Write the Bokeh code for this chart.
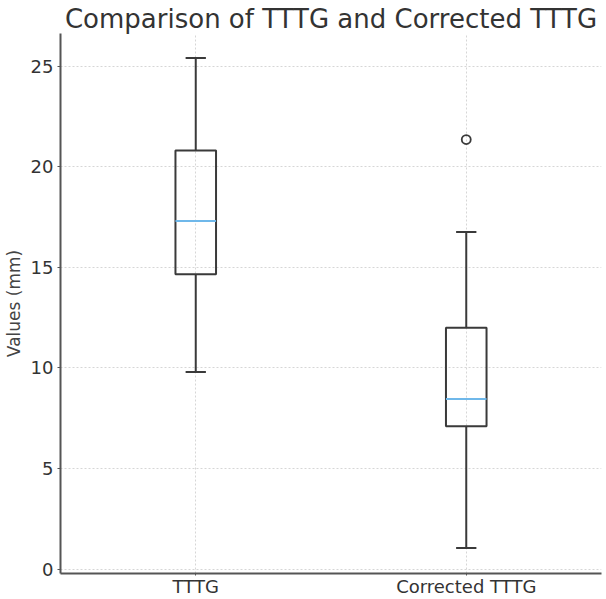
from bokeh.plotting import figure
from bokeh.models import Range1d, FixedTicker, Title
from bokeh.embed import file_html
from bokeh.resources import INLINE

categories = ["TTTG", "Corrected TTTG"]
positions = [1, 2]
whisker_low = [9.8, 1.05]
q1 = [14.65, 7.1]
median = [17.3, 8.45]
q3 = [20.8, 12.0]
whisker_high = [25.4, 16.75]
outlier_pos = [2]
outlier_val = [21.35]

box_w = 0.15
cap_w = 0.075

p = figure(width=606, height=599, output_backend="svg", toolbar_location=None,
           x_range=Range1d(0.5, 2.5), y_range=Range1d(-0.22, 26.62),
           min_border_left=59, min_border_right=5, min_border_top=33, min_border_bottom=26)
p.title = None
p.add_layout(Title(text="Comparison of TTTG and Corrected TTTG", align="center",
                   text_font="DejaVu Sans", text_font_size="26px", text_font_style="normal",
                   text_color="#333333", standoff=0, offset=0), "above")

p.outline_line_color = None
p.background_fill_color = "white"
p.border_fill_color = "white"

# whiskers
p.segment(x0=positions, y0=q3, x1=positions, y1=whisker_high, line_color="#3a3a3a", line_width=2)
p.segment(x0=positions, y0=whisker_low, x1=positions, y1=q1, line_color="#3a3a3a", line_width=2)
# caps
p.segment(x0=[x - cap_w / 2 for x in positions], y0=whisker_high,
          x1=[x + cap_w / 2 for x in positions], y1=whisker_high, line_color="#3a3a3a", line_width=2)
p.segment(x0=[x - cap_w / 2 for x in positions], y0=whisker_low,
          x1=[x + cap_w / 2 for x in positions], y1=whisker_low, line_color="#3a3a3a", line_width=2)
# boxes
p.quad(left=[x - box_w / 2 for x in positions], right=[x + box_w / 2 for x in positions],
       bottom=q1, top=q3, fill_color=None, line_color="#3a3a3a", line_width=2)
# medians
p.segment(x0=[x - box_w / 2 for x in positions], y0=median,
          x1=[x + box_w / 2 for x in positions], y1=median, line_color="#6fb8ea", line_width=2)
# outliers
p.scatter(x=outlier_pos, y=outlier_val, marker="circle", size=9, fill_color=None,
          line_color="#3a3a3a", line_width=1.8)

p.xaxis.ticker = FixedTicker(ticks=positions)
p.xaxis.major_label_overrides = {1: categories[0], 2: categories[1]}
p.yaxis.ticker = FixedTicker(ticks=[0, 5, 10, 15, 20, 25])
p.yaxis.axis_label = "Values (mm)"

for ax in (p.xaxis, p.yaxis):
    ax.axis_line_color = "#555555"
    ax.axis_line_width = 2
    ax.major_tick_line_color = "#555555"
    ax.major_tick_out = 3
    ax.major_tick_in = 0
    ax.minor_tick_line_color = None
    ax.major_label_text_font = "DejaVu Sans"
    ax.major_label_text_font_size = "18px"
    ax.major_label_text_color = "#333333"
    ax.axis_label_text_font = "DejaVu Sans"
    ax.axis_label_text_font_size = "17px"
    ax.axis_label_text_font_style = "normal"
    ax.axis_label_text_color = "#444444"

p.xaxis.major_tick_out = 2
p.yaxis.major_label_standoff = 4
p.yaxis.axis_label_standoff = 4
p.xaxis.major_label_standoff = 0

p.grid.grid_line_color = "#d6d6d6"
p.grid.grid_line_dash = "2 2"
p.grid.grid_line_width = 1

open("out.html", "w").write(file_html(p, INLINE))
